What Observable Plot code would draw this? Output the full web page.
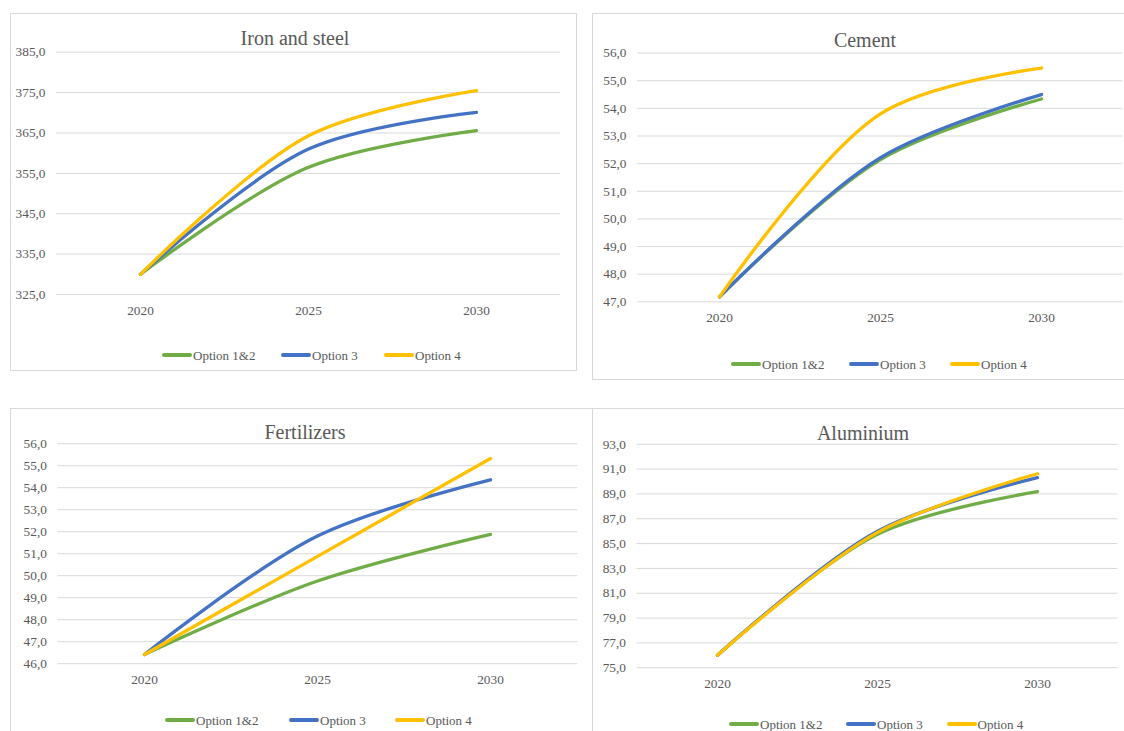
<!DOCTYPE html>
<html>
<head>
<meta charset="utf-8">
<script src="https://cdn.jsdelivr.net/npm/d3@7"></script>
<script src="https://cdn.jsdelivr.net/npm/@observablehq/plot@0.6"></script>
<style>
  html, body { margin: 0; padding: 0; background: #fff; }
  #page { position: relative; width: 1124px; height: 731px; overflow: hidden; background: #fff;
          font-family: 'Liberation Serif', 'Times New Roman', serif; color: #595959; }
  #page svg, #page svg text { font-family: 'Liberation Serif', 'Times New Roman', serif !important; }
  .box { position: absolute; border: 1px solid #d9d9d9; box-sizing: border-box; }
  .chart { position: absolute; }
  .title { position: absolute; font-size: 20px; white-space: nowrap; transform: translate(-50%, -50%); line-height: 1; }
  .sw { position: absolute; height: 3.5px; width: 30px; border-radius: 2px; }
  .lt { position: absolute; font-size: 13px; white-space: nowrap; line-height: 1; transform: translateY(-50%); }
</style>
</head>
<body>
<div id="page"></div>
<script>
// ---- data ----
const years = ["2020", "2025", "2030"];
const seriesNames = ["Option 1&2", "Option 3", "Option 4"];
const seriesColors = ["#70ad47", "#4472c4", "#ffc000"];

// Iron and steel
const ironOpt12 = [330.0, 356.5, 365.6];
const ironOpt3  = [330.0, 361.0, 370.1];
const ironOpt4  = [330.0, 364.3, 375.5];
const ironTicks = [325, 335, 345, 355, 365, 375, 385];

// Cement
const cementOpt12 = [47.18, 52.15, 54.34];
const cementOpt3  = [47.18, 52.22, 54.50];
const cementOpt4  = [47.18, 53.80, 55.46];
const cementTicks = [47, 48, 49, 50, 51, 52, 53, 54, 55, 56];

// Fertilizers
const fertOpt12 = [46.42, 49.76, 51.88];
const fertOpt3  = [46.42, 51.80, 54.36];
const fertOpt4  = [46.42, 50.88, 55.33];
const fertTicks = [46, 47, 48, 49, 50, 51, 52, 53, 54, 55, 56];

// Aluminium
const aluOpt12 = [76.0, 85.75, 89.18];
const aluOpt3  = [76.0, 86.0, 90.32];
const aluOpt4  = [76.0, 85.9, 90.63];
const aluTicks = [75, 77, 79, 81, 83, 85, 87, 89, 91, 93];

// ---- layout ----
const panels = [
  { title: "Iron and steel", vals: [ironOpt12, ironOpt3, ironOpt4], ticks: ironTicks,
    box: [10, 13, 567, 358], svg: [10, 13, 567, 358], m: [38.7, 17, 77, 46],
    tx: 295, ty: 38, ly: 355, lx: [162, 281, 384] },
  { title: "Cement", vals: [cementOpt12, cementOpt3, cementOpt4], ticks: cementTicks,
    box: [591.5, 12.7, 540, 367.3], svg: [591.5, 12.7, 532.5, 367.3], m: [39.6, 2, 79, 45],
    tx: 865, ty: 40, ly: 364, lx: [731, 849, 950] },
  { title: "Fertilizers", vals: [fertOpt12, fertOpt3, fertOpt4], ticks: fertTicks,
    box: [10, 407.5, 582.5, 360], svg: [10, 407.5, 581.5, 323.5], m: [35.2, 14.2, 68.3, 47.4],
    tx: 305, ty: 432, ly: 720, lx: [165, 289, 395] },
  { title: "Aluminium", vals: [aluOpt12, aluOpt3, aluOpt4], ticks: aluTicks,
    box: [591.5, 407.5, 540, 360], svg: [591.5, 407.5, 532.5, 323.5], m: [35.8, 7, 64.3, 44.5],
    tx: 863, ty: 433, ly: 724, lx: [729, 846, 946.5] }
];

const page = document.getElementById("page");
const fmt = d => d.toFixed(1).replace(".", ",");
const serif = "'Liberation Serif', 'Times New Roman', serif";

for (const p of panels) {
  const box = document.createElement("div");
  box.className = "box";
  Object.assign(box.style, { left: p.box[0] + "px", top: p.box[1] + "px", width: p.box[2] + "px", height: p.box[3] + "px" });
  page.appendChild(box);

  const rows = seriesNames.flatMap((s, i) => years.map((y, j) => ({ year: y, value: p.vals[i][j], series: s })));

  const chart = Plot.plot({
    width: p.svg[2],
    height: p.svg[3],
    marginTop: p.m[0], marginRight: p.m[1], marginBottom: p.m[2], marginLeft: p.m[3],
    style: { fontFamily: serif, fontSize: "13.3px", color: "#595959", background: "transparent", overflow: "visible" },
    x: { type: "point", domain: years, padding: 0.5, label: null },
    y: { domain: [p.ticks[0], p.ticks[p.ticks.length - 1]], label: null },
    color: { domain: seriesNames, range: seriesColors },
    marks: [
      Plot.ruleY(p.ticks, { stroke: "#d9d9d9", strokeWidth: 1 }),
      Plot.axisX({ tickSize: 0, tickPadding: 11, fontFamily: serif, fontSize: 13.3, fill: "#595959", label: null }),
      Plot.axisY(p.ticks, { tickSize: 0, tickPadding: 11, tickFormat: fmt, fontFamily: serif, fontSize: 13.3, fill: "#595959", label: null }),
      Plot.lineY(rows, { x: "year", y: "value", z: "series", stroke: "series", strokeWidth: 3.3, curve: "catmull-rom", strokeLinecap: "round" })
    ]
  });
  chart.classList.add("chart");
  Object.assign(chart.style, { left: p.svg[0] + "px", top: p.svg[1] + "px" });
  page.appendChild(chart);

  const t = document.createElement("div");
  t.className = "title";
  t.textContent = p.title;
  Object.assign(t.style, { left: p.tx + "px", top: p.ty + "px" });
  page.appendChild(t);

  seriesNames.forEach((s, i) => {
    const sw = document.createElement("div");
    sw.className = "sw";
    Object.assign(sw.style, { left: p.lx[i] + "px", top: (p.ly - 1.75) + "px", background: seriesColors[i] });
    page.appendChild(sw);
    const lt = document.createElement("div");
    lt.className = "lt";
    lt.textContent = s;
    Object.assign(lt.style, { left: (p.lx[i] + 31) + "px", top: p.ly + "px" });
    page.appendChild(lt);
  });
}
</script>
</body>
</html>
